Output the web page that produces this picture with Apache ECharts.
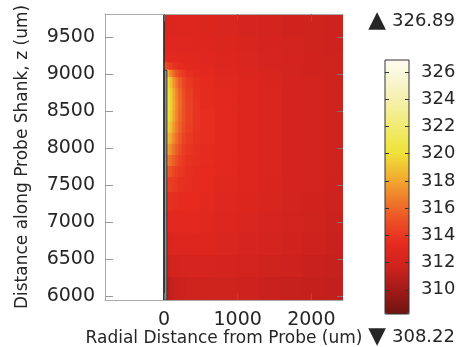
<!DOCTYPE html>
<html>
<head>
<meta charset="utf-8">
<script src="https://cdn.jsdelivr.net/npm/echarts@6/dist/echarts.min.js"></script>
<style>
  html, body { margin: 0; padding: 0; background: #fff; }
  #chart { width: 461px; height: 347px; }
</style>
</head>
<body>
<div id="chart"></div>
<script>
// cell edges of the temperature field (um)
var rEdges = [0, 40, 80, 120, 160, 200, 250, 300, 400, 500, 700, 1000, 1300, 1600, 1900, 2200, 2430];
// axial edges, top to bottom
var zEdges = [9810, 9500, 9300, 9150, 9050, 8950, 8800, 8650, 8500, 8350, 8200, 8050, 7900, 7750, 7600, 7400, 7150, 6850, 6550, 6250, 5950];
// temperature (K), one row per z band, one column per r band
var temps = [
  [312.6, 312.6, 312.7, 312.7, 312.7, 312.7, 312.7, 312.7, 312.7, 312.6, 312.5, 312.3, 312.1, 311.9, 311.8, 311.7],
  [312.9, 312.9, 312.9, 312.9, 312.9, 312.9, 312.9, 312.9, 312.8, 312.7, 312.6, 312.4, 312.2, 312.0, 311.8, 311.7],
  [313.4, 313.3, 313.2, 313.2, 313.1, 313.1, 313.0, 313.0, 313.0, 312.9, 312.7, 312.5, 312.3, 312.0, 311.9, 311.8],
  [315.2, 314.6, 314.1, 313.8, 313.6, 313.4, 313.3, 313.2, 313.1, 313.0, 312.8, 312.5, 312.3, 312.1, 311.9, 311.8],
  [319.8, 318.4, 317.0, 315.9, 315.1, 314.5, 314.0, 313.6, 313.3, 313.1, 312.9, 312.6, 312.4, 312.1, 311.9, 311.8],
  [320.6, 320.0, 318.8, 317.5, 316.4, 315.5, 314.7, 314.0, 313.6, 313.3, 313.0, 312.7, 312.4, 312.2, 312.0, 311.8],
  [320.9, 320.4, 319.4, 318.1, 316.9, 315.9, 315.0, 314.3, 313.7, 313.4, 313.1, 312.8, 312.5, 312.2, 312.0, 311.8],
  [320.9, 320.4, 319.5, 318.2, 317.0, 316.0, 315.1, 314.4, 313.8, 313.4, 313.1, 312.8, 312.5, 312.2, 312.0, 311.8],
  [320.7, 320.2, 319.3, 318.0, 316.9, 315.9, 315.1, 314.4, 313.8, 313.5, 313.2, 312.8, 312.5, 312.2, 312.0, 311.8],
  [320.3, 319.7, 318.8, 317.6, 316.6, 315.7, 314.9, 314.3, 313.8, 313.5, 313.2, 312.8, 312.5, 312.2, 312.0, 311.8],
  [319.5, 318.9, 318.0, 317.0, 316.1, 315.3, 314.6, 314.1, 313.7, 313.5, 313.2, 312.8, 312.5, 312.2, 312.0, 311.8],
  [318.4, 317.9, 317.1, 316.3, 315.5, 314.9, 314.3, 313.9, 313.6, 313.4, 313.1, 312.8, 312.5, 312.2, 312.0, 311.8],
  [317.1, 316.7, 316.1, 315.5, 314.9, 314.4, 314.0, 313.7, 313.5, 313.4, 313.1, 312.8, 312.5, 312.2, 312.0, 311.8],
  [315.8, 315.5, 315.1, 314.7, 314.3, 314.0, 313.8, 313.6, 313.4, 313.3, 313.1, 312.8, 312.5, 312.2, 312.0, 311.8],
  [314.7, 314.5, 314.3, 314.1, 313.9, 313.7, 313.6, 313.5, 313.4, 313.3, 313.0, 312.7, 312.4, 312.2, 312.0, 311.7],
  [313.8, 313.8, 313.7, 313.6, 313.5, 313.4, 313.4, 313.3, 313.3, 313.2, 312.9, 312.6, 312.4, 312.1, 311.9, 311.7],
  [313.0, 313.1, 313.2, 313.2, 313.2, 313.2, 313.2, 313.2, 313.1, 313.0, 312.8, 312.5, 312.3, 312.0, 311.8, 311.6],
  [312.2, 312.4, 312.6, 312.7, 312.8, 312.8, 312.8, 312.8, 312.8, 312.7, 312.5, 312.3, 312.1, 311.9, 311.7, 311.5],
  [311.4, 311.7, 312.0, 312.1, 312.2, 312.3, 312.3, 312.3, 312.3, 312.3, 312.2, 312.0, 311.8, 311.7, 311.5, 311.4],
  [310.6, 311.0, 311.3, 311.5, 311.6, 311.7, 311.7, 311.8, 311.8, 311.8, 311.8, 311.7, 311.5, 311.4, 311.3, 311.2]
];
var xTicks = [0, 1000, 2000];
var yTicks = [6000, 6500, 7000, 7500, 8000, 8500, 9000, 9500];
var cbTicks = [310, 312, 314, 316, 318, 320, 322, 324, 326];
var tRange = [308.22, 326.89];
// probe shank outline (um)
var probeR = [0, 40];
var probeZ = [5950, 9050];
var boundaryR = [0];

var FONT = 'DejaVu Sans';
var TXT = '#262626';

var cells = [];
for (var i = 0; i < temps.length; i++) {
  for (var j = 0; j < temps[i].length; j++) {
    cells.push([rEdges[j], rEdges[j + 1], zEdges[i + 1], zEdges[i], temps[i][j]]);
  }
}

function plain(v) { return String(v); }

function renderCell(params, api) {
  var p0 = api.coord([api.value(0), api.value(3)]);
  var p1 = api.coord([api.value(1), api.value(2)]);
  return {
    type: 'rect',
    shape: { x: p0[0] - 0.5, y: p0[1] - 0.5, width: p1[0] - p0[0] + 1, height: p1[1] - p0[1] + 1 },
    style: { fill: api.visual('color') }
  };
}

function renderProbe(params, api) {
  var p0 = api.coord([api.value(0), api.value(3)]);
  var p1 = api.coord([api.value(1), api.value(2)]);
  return {
    type: 'rect',
    shape: { x: p0[0], y: p0[1], width: p1[0] - p0[0], height: p1[1] - p0[1] },
    style: { fill: '#8e8e8e', stroke: '#3a3a3a', lineWidth: 1 }
  };
}

var rangeRich = { t: { fontSize: 23, fill: TXT, fontFamily: FONT, padding: [0, 6, 0, 0] } };

var chart = echarts.init(document.getElementById('chart'));
var option = {
  animation: false,
  backgroundColor: '#fff',
  grid: [
    { left: 105, top: 14, width: 238, height: 286, outerBoundsMode: 'none' },
    { left: 385, top: 60, width: 24, height: 254, outerBoundsMode: 'none',
      show: true, backgroundColor: 'transparent', borderColor: '#333', borderWidth: 1, z: 10 }
  ],
  xAxis: [
    {
      gridIndex: 0, type: 'value', min: -800, max: 2430, position: 'bottom', z: 5,
      name: 'Radial Distance from Probe (um)', nameLocation: 'middle', nameGap: 30,
      nameMoveOverlap: false,
      nameTextStyle: { fontSize: 17, color: TXT, fontFamily: FONT },
      axisLine: { show: true, onZero: false, lineStyle: { color: '#aaa', width: 1 } },
      axisTick: { show: true, inside: true, length: 7, customValues: xTicks, lineStyle: { color: '#666' } },
      axisLabel: { customValues: xTicks, formatter: plain, fontSize: 19, color: TXT, fontFamily: FONT, margin: 11 },
      splitLine: { show: false }
    },
    {
      gridIndex: 1, type: 'value', min: 0, max: 1, show: false
    },
    {
      gridIndex: 0, type: 'value', min: -800, max: 2430, position: 'top', z: 5,
      axisLine: { show: true, onZero: false, lineStyle: { color: '#aaa', width: 1 } },
      axisTick: { show: true, inside: true, length: 7, customValues: xTicks, lineStyle: { color: '#666' } },
      axisLabel: { show: false },
      splitLine: { show: false }
    }
  ],
  yAxis: [
    {
      gridIndex: 0, type: 'value', min: 5950, max: 9810, position: 'left', z: 5,
      name: 'Distance along Probe Shank, z (um)', nameLocation: 'middle', nameGap: 74,
      nameMoveOverlap: false,
      nameTextStyle: { fontSize: 17, color: TXT, fontFamily: FONT },
      axisLine: { show: true, onZero: false, lineStyle: { color: '#aaa', width: 1 } },
      axisTick: { show: true, inside: true, length: 8, customValues: yTicks, lineStyle: { color: '#999' } },
      axisLabel: { customValues: yTicks, formatter: plain, fontSize: 19, color: TXT, fontFamily: FONT, margin: 10 },
      splitLine: { show: false }
    },
    {
      gridIndex: 1, type: 'value', min: tRange[0], max: tRange[1], position: 'left', z: 10,
      axisLine: { show: false, onZero: false },
      axisTick: { show: true, inside: true, length: 4, customValues: cbTicks, lineStyle: { color: '#333' } },
      axisLabel: { show: false },
      splitLine: { show: false }
    },
    {
      gridIndex: 1, type: 'value', min: tRange[0], max: tRange[1], position: 'right', z: 10,
      axisLine: { show: false, onZero: false },
      axisTick: { show: true, inside: true, length: 4, customValues: cbTicks, lineStyle: { color: '#333' } },
      axisLabel: { customValues: cbTicks, formatter: plain, fontSize: 18, color: TXT, fontFamily: FONT, margin: 12 },
      splitLine: { show: false }
    },
    {
      gridIndex: 0, type: 'value', min: 5950, max: 9810, position: 'right', z: 5,
      axisLine: { show: false, onZero: false },
      axisTick: { show: true, inside: true, length: 6, customValues: yTicks, lineStyle: { color: '#777' } },
      axisLabel: { show: false },
      splitLine: { show: false }
    }
  ],
  visualMap: {
    type: 'continuous', seriesIndex: 0, dimension: 4,
    min: tRange[0], max: tRange[1], calculable: false, hoverLink: false,
    orient: 'vertical', left: 385, top: 60, padding: 0,
    itemWidth: 24, itemHeight: 254,
    inRange: {
      color: ['#6e1410', '#a01a18', '#cc221d', '#e5291f', '#ec4d25', '#ef7e2b',
              '#f2b232', '#eee33a', '#f0ea6a', '#f4efa0', '#f8f5cc', '#fdfcf0']
    }
  },
  graphic: [
    { type: 'text', x: 455, y: 21, z: 20,
      style: { text: '{t|\u25B2}' + tRange[1].toFixed(2), rich: rangeRich, align: 'right', verticalAlign: 'middle',
               fontSize: 18, fill: TXT, fontFamily: FONT } },
    { type: 'text', x: 455, y: 337, z: 20,
      style: { text: '{t|\u25BC}' + tRange[0].toFixed(2), rich: rangeRich, align: 'right', verticalAlign: 'middle',
               fontSize: 18, fill: TXT, fontFamily: FONT } }
  ],
  series: [
    {
      type: 'custom', name: 'T', xAxisIndex: 0, yAxisIndex: 0, z: 2, clip: true,
      renderItem: renderCell,
      encode: { x: [0, 1], y: [2, 3] },
      data: cells,
      silent: true,
      markLine: {
        silent: true, symbol: 'none',
        label: { show: false },
        lineStyle: { color: '#2a2a2a', width: 1.5, type: 'solid' },
        data: boundaryR.map(function (r) { return { xAxis: r }; })
      }
    },
    {
      type: 'custom', name: 'probe', xAxisIndex: 0, yAxisIndex: 0, z: 3,
      renderItem: renderProbe,
      encode: { x: [0, 1], y: [2, 3] },
      data: [[probeR[0], probeR[1], probeZ[0], probeZ[1]]],
      silent: true
    }
  ]
};
chart.setOption(option);
</script>
</body>
</html>
